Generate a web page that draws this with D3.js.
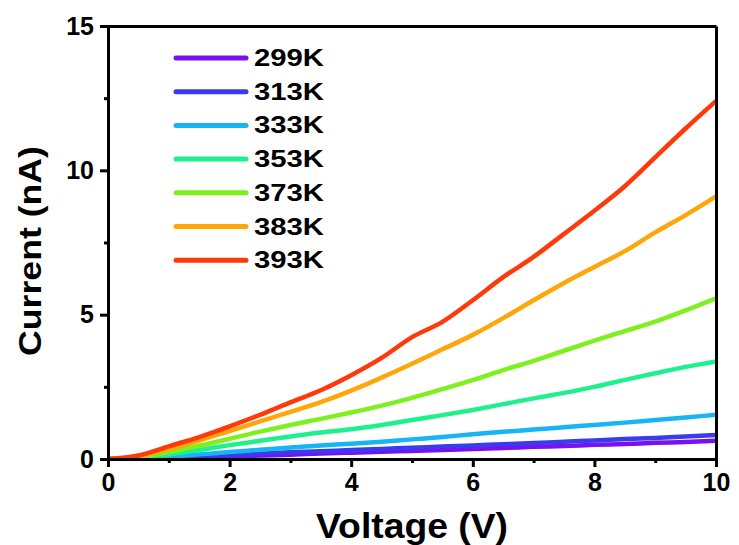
<!DOCTYPE html>
<html><head><meta charset="utf-8">
<script src="https://cdn.jsdelivr.net/npm/d3@7"></script>
<style>body{margin:0;background:#fff}svg{display:block}text{font-family:Arial,"Liberation Sans",sans-serif;font-weight:bold;fill:#000}</style>
</head><body><svg id="c" width="739" height="545"></svg>
<script>
const voltage = [0,0.5,1,1.5,2,2.5,3,3.5,4,4.5,5,5.5,6,6.5,7,7.5,8,8.5,9,9.5,10];
const seriesNames = ["299K","313K","333K","353K","373K","383K","393K"];
const seriesColors = ["#7a10f0","#3a3aee","#18b4f4","#1ef08e","#7ef01e","#ffa60a","#ff3a0a"];
const I299 = [0,0.01,0.03,0.06,0.09,0.12,0.15,0.19,0.22,0.25,0.28,0.31,0.35,0.38,0.42,0.45,0.49,0.52,0.56,0.59,0.63];
const I313 = [0,0.01,0.05,0.09,0.14,0.18,0.23,0.27,0.31,0.35,0.39,0.43,0.47,0.51,0.55,0.6,0.64,0.69,0.73,0.78,0.83];
const I333 = [0,0.02,0.08,0.16,0.24,0.32,0.4,0.47,0.53,0.6,0.68,0.76,0.86,0.94,1.02,1.1,1.18,1.26,1.35,1.44,1.53];
const I353 = [0,0.04,0.16,0.31,0.48,0.63,0.78,0.92,1.03,1.18,1.35,1.52,1.7,1.9,2.1,2.29,2.5,2.74,2.97,3.19,3.38];
const I373 = [0,0.06,0.24,0.46,0.7,0.95,1.18,1.39,1.61,1.85,2.12,2.42,2.73,3.08,3.4,3.75,4.1,4.43,4.76,5.15,5.57];
const I383 = [0,0.09,0.34,0.64,0.97,1.3,1.63,1.97,2.37,2.82,3.3,3.8,4.3,4.88,5.5,6.1,6.65,7.2,7.85,8.45,9.1];
const I393 = [0,0.12,0.44,0.76,1.13,1.53,1.96,2.38,2.9,3.5,4.22,4.75,5.5,6.3,7.0,7.8,8.6,9.45,10.45,11.45,12.4];
const seriesValues = [I299,I313,I333,I353,I373,I383,I393];
const xTicks = [0,2,4,6,8,10];
const xMinor = [1,3,5,7,9];
const yTicks = [0,5,10,15];
const yMinor = [2.5,7.5,12.5];

const svg = d3.select("#c");
const L=108,R=716,T=26,B=459;
const x = d3.scaleLinear().domain([0,10]).range([L,R]);
const y = d3.scaleLinear().domain([0,15]).range([B,T]);

svg.append("defs").append("clipPath").attr("id","clip").append("rect")
  .attr("x",L).attr("y",T-5).attr("width",R-L).attr("height",B-T+5);

const line = d3.line().x((d,i)=>x(voltage[i])).y(d=>y(d)).curve(d3.curveMonotoneX);
const g = svg.append("g").attr("clip-path","url(#clip)");
seriesValues.forEach((vals,k)=>{
  g.append("path").attr("d",line(vals)).attr("fill","none")
   .attr("stroke",seriesColors[k]).attr("stroke-width",4.5).attr("stroke-linejoin","round");
});

// axes
const fs = 25;
svg.append("g").attr("transform",`translate(0,${B})`)
  .call(d3.axisBottom(x).tickValues(xTicks).tickSize(8).tickPadding(6).tickFormat(d3.format("d")));
svg.append("g").attr("transform",`translate(0,${B})`)
  .call(d3.axisBottom(x).tickValues(xMinor).tickSize(4).tickFormat(""));
svg.append("g").attr("transform",`translate(${L},0)`)
  .call(d3.axisLeft(y).tickValues(yTicks).tickSize(8).tickPadding(6).tickFormat(d3.format("d")));
svg.append("g").attr("transform",`translate(${L},0)`)
  .call(d3.axisLeft(y).tickValues(yMinor).tickSize(4).tickFormat(""));
svg.append("g").attr("transform",`translate(0,${T})`)
  .call(d3.axisTop(x).tickValues([]).tickSizeOuter(0));
svg.append("g").attr("transform",`translate(${R},0)`)
  .call(d3.axisRight(y).tickValues([]).tickSizeOuter(0));
svg.selectAll(".domain").attr("stroke","#000").attr("stroke-width",3);
svg.selectAll(".tick line").attr("stroke","#000").attr("stroke-width",3);
svg.selectAll(".tick text").attr("font-size",fs).attr("font-family","Arial, 'Liberation Sans', sans-serif").attr("font-weight","bold").attr("fill","#000");

// titles
svg.append("text").attr("x",412).attr("y",538).attr("text-anchor","middle").attr("font-size",35)
  .attr("textLength",192).attr("lengthAdjust","spacingAndGlyphs").text("Voltage (V)");
svg.append("text").attr("transform","translate(41,251) rotate(-90)").attr("text-anchor","middle").attr("font-size",32)
  .attr("textLength",210).attr("lengthAdjust","spacingAndGlyphs").text("Current (nA)");

// legend
const leg = svg.append("g");
seriesNames.forEach((n,k)=>{
  const yy = 58 + k*33.7;
  leg.append("line").attr("x1",176).attr("x2",246).attr("y1",yy).attr("y2",yy)
    .attr("stroke",seriesColors[k]).attr("stroke-width",5).attr("stroke-linecap","round");
  leg.append("text").attr("x",254).attr("y",yy+8).attr("font-size",23)
    .attr("textLength",70).attr("lengthAdjust","spacingAndGlyphs").text(n);
});
</script></body></html>
